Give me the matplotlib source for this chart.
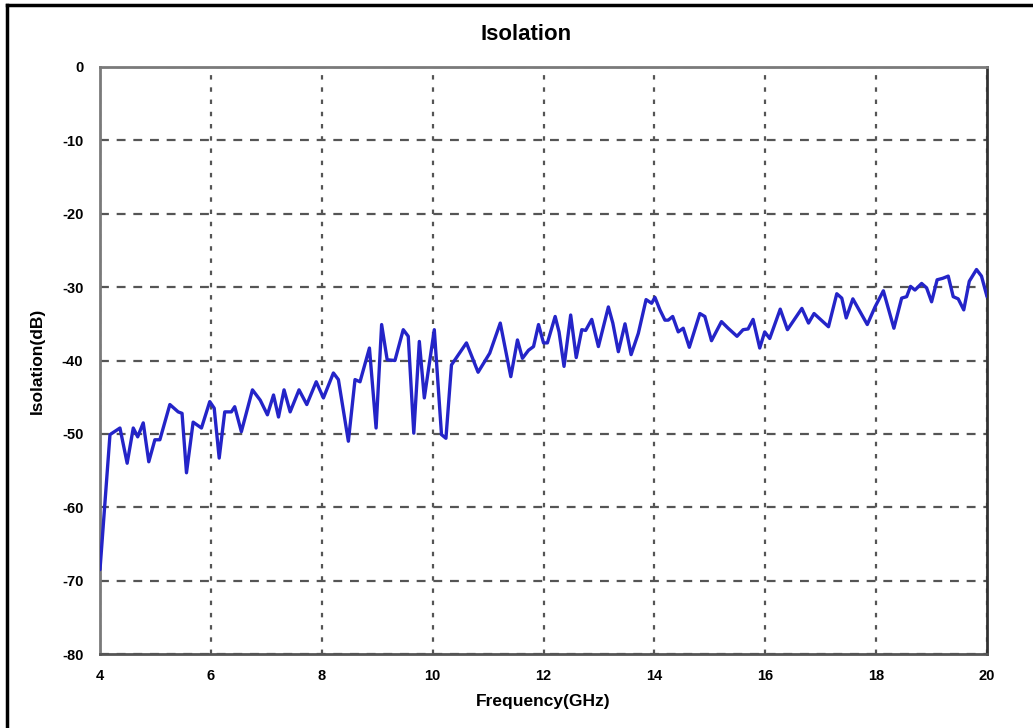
import matplotlib
matplotlib.use('Agg')
import matplotlib.pyplot as plt
from matplotlib.lines import Line2D

# values
freq_ghz = [4.00, 4.18, 4.36, 4.49, 4.60, 4.68, 4.78, 4.88, 4.99, 5.08,
            5.26, 5.41, 5.48, 5.56, 5.68, 5.83, 5.98, 6.06, 6.15, 6.25,
            6.37, 6.43, 6.55, 6.75, 6.89, 7.02, 7.13, 7.22, 7.32, 7.43,
            7.59, 7.73, 7.90, 8.03, 8.21, 8.30, 8.48, 8.60, 8.69, 8.86,
            8.98, 9.08, 9.18, 9.32, 9.47, 9.56, 9.66, 9.76, 9.85, 10.03,
            10.16, 10.24, 10.34, 10.61, 10.82, 11.03, 11.22, 11.41, 11.53, 11.62,
            11.73, 11.82, 11.91, 12.00, 12.07, 12.21, 12.28, 12.37, 12.49, 12.59,
            12.69, 12.76, 12.87, 12.99, 13.17, 13.25, 13.35, 13.47, 13.58, 13.71,
            13.85, 13.95, 14.01, 14.10, 14.19, 14.25, 14.33, 14.43, 14.52, 14.63,
            14.82, 14.91, 15.03, 15.21, 15.33, 15.49, 15.60, 15.69, 15.78, 15.90,
            15.99, 16.08, 16.27, 16.40, 16.66, 16.78, 16.88, 17.14, 17.29, 17.38,
            17.46, 17.58, 17.84, 17.98, 18.13, 18.32, 18.46, 18.55, 18.62, 18.70,
            18.82, 18.91, 19.00, 19.10, 19.20, 19.30, 19.39, 19.48, 19.58, 19.68,
            19.81, 19.90, 20.00]
isolation_db = [-68.5, -50.1, -49.2, -54.0, -49.2, -50.4, -48.5, -53.8, -50.8, -50.8,
                -46.0, -47.0, -47.2, -55.3, -48.4, -49.2, -45.6, -46.5, -53.3, -47.0,
                -47.0, -46.3, -49.7, -44.0, -45.4, -47.4, -44.7, -47.7, -44.0, -47.0,
                -44.0, -46.0, -42.9, -45.1, -41.7, -42.6, -51.0, -42.6, -42.9, -38.3,
                -49.2, -35.1, -39.9, -40.0, -35.8, -36.7, -49.9, -37.4, -45.1, -35.8,
                -50.1, -50.6, -40.6, -37.6, -41.6, -39.0, -34.9, -42.2, -37.2, -39.7,
                -38.6, -38.1, -35.1, -37.6, -37.6, -34.0, -36.1, -40.8, -33.8, -39.6,
                -35.8, -35.9, -34.4, -38.1, -32.7, -34.9, -38.8, -35.0, -39.2, -36.3,
                -31.7, -32.2, -31.4, -33.1, -34.5, -34.5, -34.0, -36.1, -35.6, -38.2,
                -33.6, -34.0, -37.3, -34.7, -35.6, -36.7, -35.8, -35.7, -34.4, -38.3,
                -36.1, -37.0, -33.0, -35.8, -32.9, -34.9, -33.6, -35.4, -30.9, -31.5,
                -34.2, -31.6, -35.1, -32.7, -30.5, -35.6, -31.5, -31.3, -29.9, -30.4,
                -29.5, -30.1, -32.0, -29.0, -28.8, -28.5, -31.3, -31.6, -33.1, -29.2,
                -27.6, -28.5, -31.3]

x_ticks = [4, 6, 8, 10, 12, 14, 16, 18, 20]
y_ticks = [0, -10, -20, -30, -40, -50, -60, -70, -80]

plt.rcParams['font.family'] = ['Liberation Sans', 'DejaVu Sans']
plt.rcParams['axes.unicode_minus'] = False

fig = plt.figure(figsize=(10.33, 7.28), dpi=100)
ax = fig.add_axes([0.0968, 0.1016, 0.8587, 0.8064])

ax.plot(freq_ghz, isolation_db, color='#2424c8', lw=2.4,
        solid_joinstyle='round', solid_capstyle='round', zorder=3)

ax.set_xlim(4, 20)
ax.set_ylim(-80, 0)
ax.set_xticks(x_ticks)
ax.set_yticks(y_ticks)
ax.tick_params(length=0, labelsize=10.5)
ax.tick_params(axis='x', pad=11)
ax.tick_params(axis='y', pad=12)
for lbl in ax.get_xticklabels() + ax.get_yticklabels():
    lbl.set_fontweight('bold')

# vertical grid dotted, horizontal grid dashed
ax.grid(True, axis='x', color='#555555', lw=1.6, linestyle=(0, (2, 3.5)))
ax.grid(True, axis='y', color='#555555', lw=1.6, linestyle=(0, (4, 3.5)))
for sp in ax.spines.values():
    sp.set_color('#7a7a7a')
    sp.set_linewidth(2.0)
ax.spines['right'].set_color('#333333')
ax.spines['bottom'].set_color('#555555')

fig.text(0.509, 0.953, 'Isolation', ha='center', va='center',
         fontsize=16, fontweight='bold')
ax.set_xlabel('Frequency(GHz)', fontsize=12.5, fontweight='bold', labelpad=8)
ax.set_ylabel('Isolation(dB)', fontsize=12.5, fontweight='bold', labelpad=12)

# outer frame of the screenshot (left and top edges)
fig.add_artist(Line2D([0.007, 0.007], [0.0, 0.993], color='black', lw=2.5,
                      transform=fig.transFigure))
fig.add_artist(Line2D([0.007, 1.0], [0.993, 0.993], color='black', lw=2.5,
                      transform=fig.transFigure))

fig.savefig('out.png', dpi=100)
